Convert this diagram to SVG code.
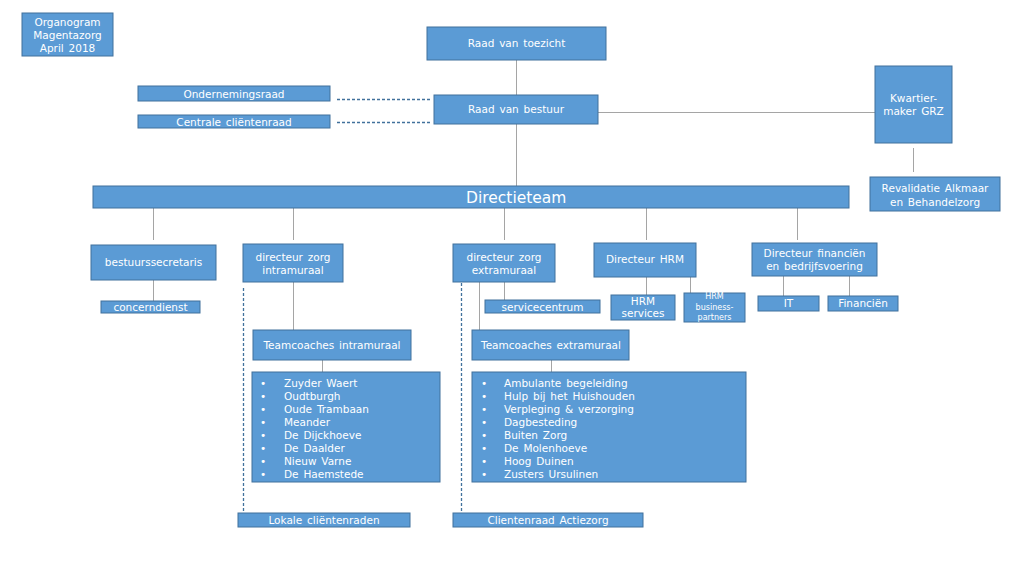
<svg xmlns="http://www.w3.org/2000/svg" width="1024" height="576" viewBox="0 0 1024 576">
<style>
.b{fill:#5b9bd5;stroke:#41719c;stroke-width:1}
.t{fill:#fff;font-family:"DejaVu Sans",Verdana,sans-serif;font-size:10.5px;text-anchor:middle;word-spacing:1.5px}
.l{fill:#fff;font-family:"DejaVu Sans",Verdana,sans-serif;font-size:10.5px;word-spacing:1.5px}
.s{fill:#fff;font-family:"DejaVu Sans",Verdana,sans-serif;font-size:8px;text-anchor:middle}
.c{stroke:#a5a5a5;stroke-width:1;fill:none}
.d{stroke:#41719c;stroke-width:1.3;fill:none;stroke-dasharray:3 2}
</style>
<rect width="1024" height="576" fill="#fff"/>
<g id="connectors">
<path class="c" d="M516.5 60V95M516.5 124V186M598 112.5H875M913.5 148V172"/>
<path class="d" d="M337 99.5H430M337 122.5H430"/>
<path class="c" d="M153.5 208V240M293.5 208V240M504.5 208V240M646.5 208V240M797.5 208V240"/>
<path class="c" d="M153.5 280V301M293.5 282V330M322.5 360V372"/>
<path class="c" d="M504.5 282V300M479.5 282V330M551.5 360V372"/>
<path class="c" d="M646.5 277V295M690.5 277V293M783.5 276V296M849.5 276V296"/>
<path class="d" d="M243.5 288V512M461.5 283V512"/>
</g>
<g id="organogram"><rect class="b" x="22" y="13" width="91" height="43"/>
<text class="t" x="67.5" y="26">Organogram</text><text class="t" x="67.5" y="39">Magentazorg</text><text class="t" x="67.5" y="52">April 2018</text></g>
<g id="raad-toezicht"><rect class="b" x="427" y="27" width="179" height="33"/><text class="t" x="516.5" y="47">Raad van toezicht</text></g>
<g id="raad-bestuur"><rect class="b" x="434" y="95" width="164" height="29"/><text class="t" x="516" y="113">Raad van bestuur</text></g>
<g id="ondernemingsraad"><rect class="b" x="138" y="86" width="192" height="15"/><text class="t" x="234" y="98">Ondernemingsraad</text></g>
<g id="centrale-clientenraad"><rect class="b" x="138" y="115" width="192" height="13"/><text class="t" x="234" y="125.5">Centrale cliëntenraad</text></g>
<g id="kwartiermaker"><rect class="b" x="875" y="66" width="77" height="77"/><text class="t" x="913.5" y="102">Kwartier-</text><text class="t" x="913.5" y="115">maker GRZ</text></g>
<g id="revalidatie"><rect class="b" x="870" y="177" width="130" height="34"/><text class="t" x="935" y="192">Revalidatie Alkmaar</text><text class="t" x="935" y="206">en Behandelzorg</text></g>
<g id="directieteam"><rect class="b" x="93" y="186" width="756" height="22"/><text class="l" x="466" y="203" style="font-size:15.5px;word-spacing:0">Directieteam</text></g>
<g id="bestuurssecretaris"><rect class="b" x="91" y="245" width="125" height="35"/><text class="t" x="153.5" y="266">bestuurssecretaris</text></g>
<g id="concerndienst"><rect class="b" x="101" y="301" width="99" height="12"/><text class="t" x="150.5" y="311">concerndienst</text></g>
<g id="dir-intramuraal"><rect class="b" x="243" y="244" width="100" height="38"/><text class="t" x="293" y="261">directeur zorg</text><text class="t" x="293" y="274">intramuraal</text></g>
<g id="teamcoaches-intramuraal"><rect class="b" x="253" y="330" width="158" height="30"/><text class="t" x="332" y="349">Teamcoaches intramuraal</text></g>
<g id="lijst-intramuraal"><rect class="b" x="252" y="372" width="188" height="110"/>
<g class="l"><text x="260" y="387">•</text><text x="260" y="400">•</text><text x="260" y="413">•</text><text x="260" y="426">•</text><text x="260" y="439">•</text><text x="260" y="452">•</text><text x="260" y="465">•</text><text x="260" y="478">•</text></g>
<text class="l" x="284" y="387">Zuyder Waert</text><text class="l" x="284" y="400">Oudtburgh</text><text class="l" x="284" y="413">Oude Trambaan</text><text class="l" x="284" y="426">Meander</text><text class="l" x="284" y="439">De Dijckhoeve</text><text class="l" x="284" y="452">De Daalder</text><text class="l" x="284" y="465">Nieuw Varne</text><text class="l" x="284" y="478">De Haemstede</text></g>
<g id="lokale-clientenraden"><rect class="b" x="238" y="513" width="172" height="14"/><text class="t" x="324" y="524">Lokale cliëntenraden</text></g>
<g id="dir-extramuraal"><rect class="b" x="453" y="244" width="102" height="38"/><text class="t" x="504" y="261">directeur zorg</text><text class="t" x="504" y="274">extramuraal</text></g>
<g id="servicecentrum"><rect class="b" x="485" y="300" width="115" height="13"/><text class="t" x="542.5" y="310.5">servicecentrum</text></g>
<g id="teamcoaches-extramuraal"><rect class="b" x="472" y="330" width="157" height="30"/><text class="l" x="481" y="349">Teamcoaches extramuraal</text></g>
<g id="lijst-extramuraal"><rect class="b" x="472" y="372" width="274" height="110"/>
<g class="l"><text x="481" y="387">•</text><text x="481" y="400">•</text><text x="481" y="413">•</text><text x="481" y="426">•</text><text x="481" y="439">•</text><text x="481" y="452">•</text><text x="481" y="465">•</text><text x="481" y="478">•</text></g>
<text class="l" x="504" y="387">Ambulante begeleiding</text><text class="l" x="504" y="400">Hulp bij het Huishouden</text><text class="l" x="504" y="413">Verpleging &amp; verzorging</text><text class="l" x="504" y="426">Dagbesteding</text><text class="l" x="504" y="439">Buiten Zorg</text><text class="l" x="504" y="452">De Molenhoeve</text><text class="l" x="504" y="465">Hoog Duinen</text><text class="l" x="504" y="478">Zusters Ursulinen</text></g>
<g id="clientenraad-actiezorg"><rect class="b" x="453" y="513" width="190" height="14"/><text class="t" x="548" y="524">Clientenraad Actiezorg</text></g>
<g id="dir-hrm"><rect class="b" x="594" y="243" width="102" height="34"/><text class="t" x="645" y="263">Directeur HRM</text></g>
<g id="hrm-services"><rect class="b" x="611" y="295" width="64" height="25"/><text class="t" x="643" y="305">HRM</text><text class="t" x="643" y="317">services</text></g>
<g id="hrm-business"><rect class="b" x="684" y="293" width="61" height="29"/><text class="s" x="714.5" y="299">HRM</text><text class="s" x="714.5" y="310">business-</text><text class="s" x="714.5" y="320">partners</text></g>
<g id="dir-financien"><rect class="b" x="752" y="243" width="125" height="33"/><text class="t" x="814.5" y="257">Directeur financiën</text><text class="t" x="814.5" y="270">en bedrijfsvoering</text></g>
<g id="it"><rect class="b" x="758" y="296" width="61" height="15"/><text class="t" x="788.5" y="307">IT</text></g>
<g id="financien"><rect class="b" x="828" y="296" width="70" height="15"/><text class="t" x="863" y="307">Financiën</text></g>
</svg>
